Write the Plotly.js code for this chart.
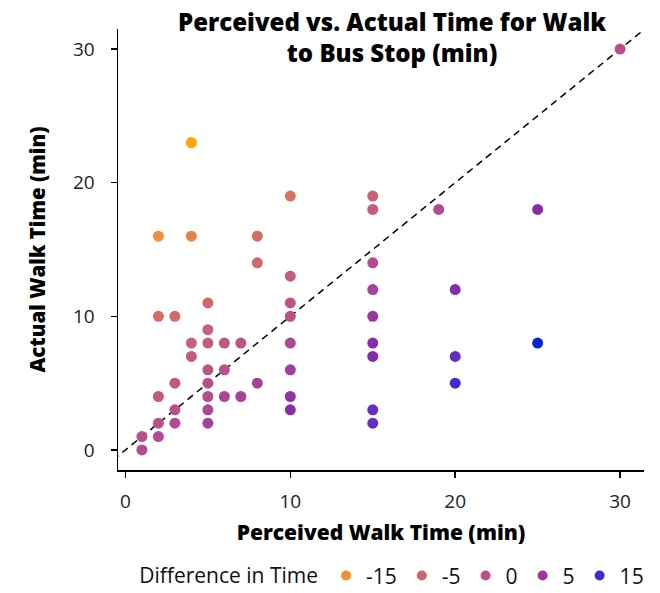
<!DOCTYPE html>
<html>
<head>
<meta charset="utf-8">
<script src="https://cdn.plot.ly/plotly-3.0.1.min.js"></script>
<style>html,body{margin:0;padding:0;background:#fff;}#chart{width:660px;height:593px;}</style>
</head>
<body>
<div id="chart"></div>
<script>
// Data
var perceived = [4,10,2,4,8,8,10,5,10,2,3,10,5,4,5,6,7,10,4,5,6,10,3,5,8,2,5,6,7,10,3,5,10,2,3,5,1,2,1,
                 15,15,19,25,15,15,20,15,15,25,15,20,20,15,15,30];
var actual    = [23,19,16,16,16,14,13,11,11,10,10,10,9,8,8,8,8,8,7,6,6,6,5,5,5,4,4,4,4,4,3,3,3,2,2,2,1,1,0,
                 19,18,18,18,14,12,12,10,8,8,7,7,5,3,2,30];
var legendBreaks = [-15, -5, 0, 5, 15];
var legendTitle = "Difference in Time";

// colour variable: perceived minus actual
var diff = perceived.map(function(p, i){ return p - actual[i]; });
var dmin = Math.min.apply(null, diff), dmax = Math.max.apply(null, diff);

// colour scale (orange -> pink -> purple -> blue)
var colorscale = [
  [0.000, '#FFA500'], [0.139, '#F08C3C'], [0.278, '#D87060'], [0.389, '#CC6470'],
  [0.528, '#B8508C'], [0.667, '#9A38A2'], [0.722, '#8A2CA8'], [0.889, '#6030C0'],
  [0.944, '#4A28C8'], [1.000, '#0028D0']
];
function hex2rgb(h){ return [parseInt(h.substr(1,2),16), parseInt(h.substr(3,2),16), parseInt(h.substr(5,2),16)]; }
function colorAt(t){
  t = Math.max(0, Math.min(1, t));
  for (var i=1;i<colorscale.length;i++){
    if (t <= colorscale[i][0]){
      var a = colorscale[i-1], b = colorscale[i], f = (t-a[0])/(b[0]-a[0]);
      var ca = hex2rgb(a[1]), cb = hex2rgb(b[1]);
      return 'rgb(' + [0,1,2].map(function(k){ return Math.round(ca[k]+(cb[k]-ca[k])*f); }).join(',') + ')';
    }
  }
  return colorscale[colorscale.length-1][1];
}

var xRange = [-0.45, 31.45], yRange = [-1.5, 31.5];
var font = "'Open Sans', Lato, sans-serif";

var traces = [];
traces.push({
  x: [xRange[0]-2, xRange[1]+2], y: [xRange[0]-2, xRange[1]+2],
  mode: 'lines', line: {color: '#000', width: 1.5, dash: '7px,5px'},
  hoverinfo: 'skip', showlegend: false
});
traces.push({
  x: perceived, y: actual, mode: 'markers', type: 'scatter',
  marker: {size: 11, color: diff, colorscale: colorscale, cmin: dmin, cmax: dmax, showscale: false},
  showlegend: false
});
legendBreaks.forEach(function(b){
  traces.push({
    x: [null], y: [null], mode: 'markers', type: 'scatter', name: String(b),
    marker: {size: 10, color: colorAt((b-dmin)/(dmax-dmin))}, showlegend: true
  });
});

var layout = {
  width: 660, height: 593,
  paper_bgcolor: '#fff', plot_bgcolor: '#fff',
  margin: {l: 118, r: 16, t: 29, b: 123},
  font: {family: font, color: '#111'},
  title: {text: 'Perceived vs. Actual Time for Walk<br>to Bus Stop (min)', font: {family: font, size: 24, color: '#000', weight: 800},
          xref: 'container', x: 0.594, xanchor: 'center', yref: 'container', y: 0.948, yanchor: 'top', automargin: false},
  xaxis: {range: xRange, tickvals: [0,10,20,30], showgrid: false, zeroline: false, showline: true, linecolor: '#000', linewidth: 1.5,
          ticks: 'outside', ticklen: 6, tickwidth: 1.5, tickcolor: '#000', tickfont: {size: 19, color: '#222'}, ticklabelstandoff: 8,
          title: {text: 'Perceived Walk Time (min)', font: {size: 21, color: '#000', weight: 800}, standoff: 12}},
  yaxis: {range: yRange, tickvals: [0,10,20,30], showgrid: false, zeroline: false, showline: true, linecolor: '#000', linewidth: 1.5,
          ticks: 'outside', ticklen: 6, tickwidth: 1.5, tickcolor: '#000', tickfont: {size: 19, color: '#222'}, ticklabelstandoff: 12,
          title: {text: 'Actual Walk Time (min)', font: {size: 20.5, color: '#000', weight: 800}, standoff: 22}},
  showlegend: true,
  legend: {orientation: 'h', xref: 'container', x: 0.208, xanchor: 'left', yref: 'container', y: 0.029, yanchor: 'middle',
           font: {size: 21, color: '#111'},
           title: {text: legendTitle, font: {size: 21, color: '#111'}, side: 'left'}, itemwidth: 30, tracegroupgap: 0}
};

Plotly.newPlot('chart', traces, layout, {displayModeBar: false, staticPlot: true});
</script>
</body>
</html>
